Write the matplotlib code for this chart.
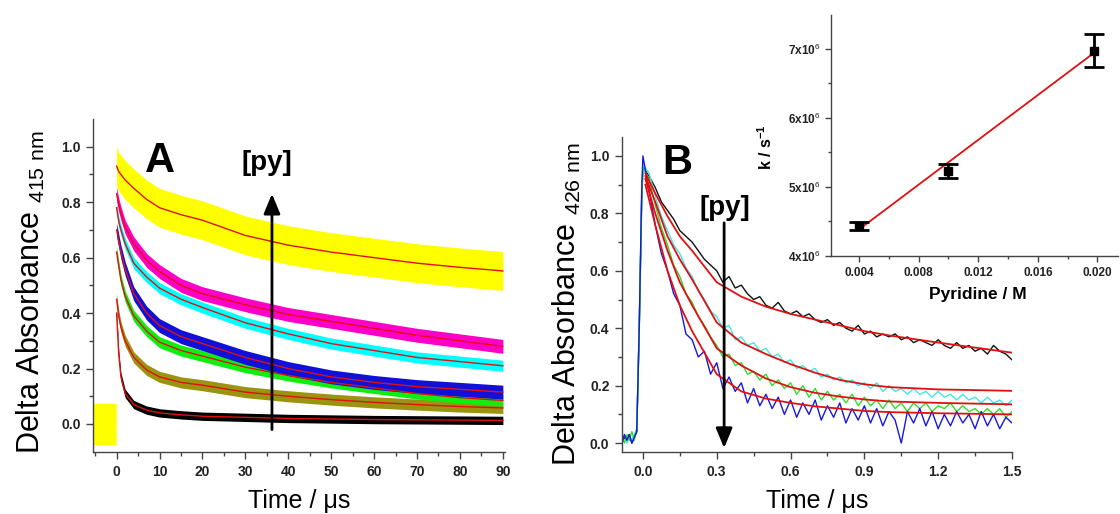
import matplotlib
matplotlib.use("Agg")
import matplotlib.pyplot as plt
from matplotlib.ticker import MultipleLocator, FixedLocator

plt.rcParams['font.family'] = ['Liberation Sans', 'DejaVu Sans']
plt.rcParams['mathtext.fontset'] = 'custom'
plt.rcParams['mathtext.rm'] = 'Liberation Sans'
plt.rcParams['mathtext.bf'] = 'Liberation Sans:bold'

# ---------------- Panel A data ----------------
tA = [0, 0.5, 1, 2, 4, 7, 10, 15, 20, 30, 40, 50, 60, 70, 80, 90]
A_yellow = [0.93, 0.91, 0.90, 0.88, 0.85, 0.81, 0.78, 0.755, 0.735, 0.68, 0.645, 0.62, 0.60, 0.58, 0.565, 0.552]
A_magenta = [0.83, 0.79, 0.76, 0.71, 0.65, 0.59, 0.55, 0.50, 0.47, 0.43, 0.395, 0.37, 0.345, 0.32, 0.30, 0.28]
A_cyan = [0.78, 0.73, 0.70, 0.65, 0.58, 0.53, 0.49, 0.45, 0.42, 0.365, 0.325, 0.29, 0.265, 0.24, 0.225, 0.21]
A_blue = [0.70, 0.66, 0.62, 0.56, 0.47, 0.40, 0.355, 0.315, 0.29, 0.24, 0.20, 0.17, 0.15, 0.135, 0.125, 0.115]
A_green = [0.62, 0.57, 0.52, 0.46, 0.39, 0.335, 0.295, 0.265, 0.245, 0.205, 0.175, 0.15, 0.13, 0.11, 0.095, 0.085]
A_olive = [0.45, 0.39, 0.35, 0.30, 0.24, 0.195, 0.17, 0.15, 0.14, 0.115, 0.10, 0.088, 0.078, 0.07, 0.063, 0.058]
A_black = [0.40, 0.25, 0.17, 0.11, 0.07, 0.05, 0.04, 0.033, 0.028, 0.024, 0.02, 0.018, 0.016, 0.015, 0.014, 0.013]
A_noise = {'yellow': 0.07, 'magenta': 0.025, 'cyan': 0.02, 'blue': 0.025,
           'green': 0.02, 'olive': 0.02, 'black': 0.015}
# yellow pre-trigger baseline
t_pre = [-5.5, -0.1]
pre_yellow = [0.0, 0.0]
pre_noise = 0.075

# ---------------- Panel B data ----------------
tB = [-0.085, -0.075, -0.065, -0.055, -0.045, -0.035, -0.025, -0.015, -0.005, 0.0,
      0.025, 0.05, 0.075, 0.1, 0.125, 0.15, 0.175, 0.2, 0.225, 0.25,
      0.275, 0.3, 0.325, 0.35, 0.375, 0.4, 0.425, 0.45, 0.475, 0.5,
      0.525, 0.55, 0.575, 0.6, 0.625, 0.65, 0.675, 0.7, 0.725, 0.75,
      0.775, 0.8, 0.825, 0.85, 0.875, 0.9, 0.925, 0.95, 0.975, 1.0,
      1.025, 1.05, 1.075, 1.1, 1.125, 1.15, 1.175, 1.2, 1.225, 1.25,
      1.275, 1.3, 1.325, 1.35, 1.375, 1.4, 1.425, 1.45, 1.475, 1.5]
B_black = [0.0, 0.02, 0.01, 0.03, 0.0, 0.02, 0.04, 0.40, 0.84, 0.96,
           0.93, 0.89, 0.84, 0.81, 0.78, 0.74, 0.72, 0.70, 0.67, 0.64,
           0.62, 0.60, 0.56, 0.58, 0.54, 0.55, 0.52, 0.50, 0.51, 0.48,
           0.47, 0.49, 0.46, 0.45, 0.46, 0.44, 0.45, 0.43, 0.42, 0.43,
           0.41, 0.42, 0.40, 0.39, 0.41, 0.38, 0.39, 0.37, 0.38, 0.37,
           0.38, 0.36, 0.37, 0.35, 0.36, 0.35, 0.34, 0.36, 0.34, 0.33,
           0.35, 0.33, 0.34, 0.32, 0.33, 0.31, 0.34, 0.32, 0.31, 0.29]
B_cyan = [0.01, 0.03, 0.0, 0.02, 0.01, 0.03, 0.05, 0.42, 0.86, 0.97,
          0.94, 0.86, 0.79, 0.74, 0.69, 0.66, 0.61, 0.58, 0.53, 0.50,
          0.46, 0.44, 0.40, 0.41, 0.36, 0.37, 0.34, 0.35, 0.32, 0.33,
          0.30, 0.31, 0.28, 0.29, 0.26, 0.27, 0.25, 0.26, 0.23, 0.24,
          0.22, 0.23, 0.21, 0.22, 0.20, 0.21, 0.19, 0.21, 0.18, 0.20,
          0.18, 0.19, 0.17, 0.19, 0.17, 0.18, 0.16, 0.18, 0.16, 0.17,
          0.15, 0.17, 0.15, 0.16, 0.14, 0.16, 0.14, 0.15, 0.13, 0.15]
B_green = [0.02, 0.0, 0.03, 0.01, 0.04, 0.01, 0.05, 0.38, 0.85, 0.96,
           0.92, 0.83, 0.75, 0.69, 0.62, 0.58, 0.52, 0.49, 0.44, 0.41,
           0.37, 0.34, 0.30, 0.31, 0.27, 0.28, 0.24, 0.25, 0.22, 0.24,
           0.20, 0.22, 0.19, 0.21, 0.17, 0.20, 0.16, 0.19, 0.15, 0.18,
           0.15, 0.17, 0.14, 0.17, 0.13, 0.16, 0.13, 0.15, 0.12, 0.15,
           0.12, 0.14, 0.11, 0.14, 0.12, 0.14, 0.11, 0.13, 0.12, 0.14,
           0.11, 0.13, 0.11, 0.12, 0.10, 0.12, 0.10, 0.12, 0.09, 0.11]
B_blue = [0.0, 0.03, 0.01, 0.03, 0.0, 0.02, 0.04, 0.40, 0.88, 1.0,
          0.88, 0.76, 0.66, 0.60, 0.52, 0.48, 0.38, 0.36, 0.30, 0.32,
          0.24, 0.28, 0.19, 0.23, 0.18, 0.21, 0.14, 0.19, 0.13, 0.17,
          0.12, 0.16, 0.10, 0.15, 0.09, 0.14, 0.10, 0.15, 0.08, 0.13,
          0.09, 0.14, 0.07, 0.12, 0.08, 0.13, 0.07, 0.12, 0.06, 0.11,
          0.08, 0.0, 0.11, 0.07, 0.12, 0.06, 0.11, 0.05, 0.10, 0.06,
          0.11, 0.07, 0.10, 0.05, 0.11, 0.06, 0.10, 0.05, 0.09, 0.07]
tB_fit = [0.01, 0.05, 0.1, 0.15, 0.2, 0.3, 0.4, 0.5, 0.6, 0.7, 0.8, 0.9, 1.0, 1.2, 1.5]
B_fit_black = [0.94, 0.87, 0.79, 0.72, 0.67, 0.56, 0.51, 0.475, 0.45, 0.43, 0.41, 0.39, 0.375, 0.35, 0.315]
B_fit_cyan = [0.93, 0.84, 0.72, 0.64, 0.57, 0.42, 0.35, 0.31, 0.275, 0.245, 0.22, 0.205, 0.195, 0.187, 0.182]
B_fit_green = [0.92, 0.80, 0.67, 0.56, 0.48, 0.33, 0.27, 0.225, 0.195, 0.175, 0.162, 0.152, 0.145, 0.14, 0.135]
B_fit_blue = [0.90, 0.76, 0.60, 0.48, 0.39, 0.24, 0.18, 0.155, 0.14, 0.128, 0.12, 0.112, 0.108, 0.104, 0.10]

# ---------------- Inset data ----------------
pyr = [0.004, 0.00995, 0.0198]
k_obs = [4.435e6, 5.23e6, 6.975e6]
k_err = [0.06e6, 0.10e6, 0.24e6]
fit_x = [0.004, 0.0197]
fit_k = [4.38e6, 6.93e6]

RED = '#e01010'
COL_A = {'yellow': '#ffff00', 'magenta': '#ff00c8', 'cyan': '#00ffff', 'blue': '#1010d8',
         'green': '#10ee10', 'olive': '#9a9410', 'black': '#000000'}

fig = plt.figure(figsize=(11.2, 5.14), dpi=100)
W, H = 1120.0, 514.0


def style_axes(ax, fs=10):
    for s in ['top', 'right']:
        ax.spines[s].set_visible(False)
    for s in ['left', 'bottom']:
        ax.spines[s].set_color('#444444')
        ax.spines[s].set_linewidth(1.0)
    ax.tick_params(which='major', direction='out', length=5, width=1, color='#444444',
                   labelsize=fs, pad=4)
    ax.tick_params(which='minor', direction='out', length=3, width=1, color='#444444')
    for lb in ax.get_xticklabels() + ax.get_yticklabels():
        lb.set_fontweight('bold')
        lb.set_color('#222222')


# ---------------- Panel A ----------------
axA = fig.add_axes([93 / W, 62 / H, (505 - 93) / W, (452 - 119) / H])
axA.set_xlim(-5.5, 90.5)
axA.set_ylim(-0.101, 1.1)
series_A = [('black', A_black), ('olive', A_olive), ('green', A_green), ('blue', A_blue),
            ('cyan', A_cyan), ('magenta', A_magenta), ('yellow', A_yellow)]
for name, vals in series_A:
    w = A_noise[name]
    lo = [v - w for v in vals]
    hi = [v + w for v in vals]
    axA.fill_between(tA, lo, hi, color=COL_A[name], lw=0, zorder=2)
# yellow pre-trigger + rise
axA.fill_between(t_pre + [tA[0]], [v - pre_noise for v in pre_yellow] + [A_yellow[0] - A_noise['yellow']],
                 [v + pre_noise for v in pre_yellow] + [A_yellow[0] + A_noise['yellow']],
                 color=COL_A['yellow'], lw=0, zorder=2)
for name, vals in series_A:
    axA.plot(tA, vals, color=RED, lw=1.0, zorder=3)
axA.set_xticks([0, 10, 20, 30, 40, 50, 60, 70, 80, 90])
axA.xaxis.set_minor_locator(MultipleLocator(5))
axA.set_yticks([0.0, 0.2, 0.4, 0.6, 0.8, 1.0])
axA.set_yticklabels(['0.0', '0.2', '0.4', '0.6', '0.8', '1.0'])
axA.yaxis.set_minor_locator(FixedLocator([0.1, 0.3, 0.5, 0.7, 0.9]))
style_axes(axA)
axA.set_xlabel('Time / μs', fontsize=18)
axA.xaxis.set_label_coords(0.5, -0.11)
axA.set_ylabel(r'Delta Absorbance $_{\mathrm{415\ nm}}$', fontsize=22)
axA.yaxis.set_label_coords(-0.112, 0.48)
axA.text(10, 0.95, 'A', fontsize=30, fontweight='bold', ha='center', va='center')
axA.text(35, 0.94, '[py]', fontsize=20, fontweight='bold', ha='center', va='center')
axA.annotate('', xy=(36.2, 0.83), xytext=(36.2, -0.02),
             arrowprops=dict(arrowstyle='-|>,head_length=0.6,head_width=0.25',
                             mutation_scale=20, lw=2, color='k', shrinkA=0, shrinkB=0), zorder=5)

# ---------------- Panel B ----------------
axB = fig.add_axes([622 / W, 62 / H, (1012 - 622) / W, (452 - 137) / H])
axB.set_xlim(-0.085, 1.5)
axB.set_ylim(-0.031, 1.066)
axB.plot(tB, B_black, color='#111111', lw=1.0, zorder=2)
axB.plot(tB, B_cyan, color='#40e8e8', lw=1.0, zorder=2)
axB.plot(tB, B_green, color='#30dd30', lw=1.0, zorder=2)
axB.plot(tB, B_blue, color='#1818dd', lw=1.0, zorder=2)
for vals in [B_fit_black, B_fit_cyan, B_fit_green, B_fit_blue]:
    axB.plot(tB_fit, vals, color=RED, lw=1.3, zorder=3)
axB.set_xticks([0.0, 0.3, 0.6, 0.9, 1.2, 1.5])
axB.set_xticklabels(['0.0', '0.3', '0.6', '0.9', '1.2', '1.5'])
axB.xaxis.set_minor_locator(FixedLocator([0.15, 0.45, 0.75, 1.05, 1.35]))
axB.set_yticks([0.0, 0.2, 0.4, 0.6, 0.8, 1.0])
axB.set_yticklabels(['0.0', '0.2', '0.4', '0.6', '0.8', '1.0'])
axB.yaxis.set_minor_locator(FixedLocator([0.1, 0.3, 0.5, 0.7, 0.9]))
style_axes(axB)
axB.set_xlabel('Time / μs', fontsize=18)
axB.xaxis.set_label_coords(0.5, -0.117)
axB.set_ylabel(r'Delta Absorbance $_{\mathrm{426\ nm}}$', fontsize=22)
axB.yaxis.set_label_coords(-0.1, 0.47)
axB.text(0.138, 0.976, 'B', fontsize=30, fontweight='bold', ha='center', va='center')
axB.text(0.334, 0.82, '[py]', fontsize=20, fontweight='bold', ha='center', va='center')
axB.annotate('', xy=(0.33, -0.017), xytext=(0.33, 0.767),
             arrowprops=dict(arrowstyle='-|>,head_length=0.6,head_width=0.25',
                             mutation_scale=20, lw=2, color='k', shrinkA=0, shrinkB=0), zorder=5)

# ---------------- Inset ----------------
axI = fig.add_axes([831 / W, (H - 256) / H, (1118 - 831) / W, (256 - 15) / H])
axI.set_xlim(0.00212, 0.02138)
axI.set_ylim(3.995e6, 7.49e6)
axI.plot(fit_x, fit_k, color=RED, lw=1.3, zorder=2)
axI.errorbar(pyr, k_obs, yerr=k_err, fmt='s', color='k', ms=6, capsize=7, elinewidth=2,
             capthick=2, zorder=3)
axI.set_xticks([0.004, 0.008, 0.012, 0.016, 0.020])
axI.set_xticklabels(['0.004', '0.008', '0.012', '0.016', '0.020'])
axI.xaxis.set_minor_locator(FixedLocator([0.006, 0.010, 0.014, 0.018]))
axI.set_yticks([4e6, 5e6, 6e6, 7e6])
axI.set_yticklabels(['4x10$^{6}$', '5x10$^{6}$', '6x10$^{6}$', '7x10$^{6}$'])
axI.yaxis.set_minor_locator(FixedLocator([4.5e6, 5.5e6, 6.5e6]))
style_axes(axI, fs=8.5)
axI.tick_params(which='major', length=4)
axI.tick_params(which='minor', length=2)
axI.set_xlabel('Pyridine / M', fontsize=12.5, fontweight='bold')
axI.xaxis.set_label_coords(0.51, -0.13)
axI.set_ylabel(r'k / s$^{\mathbf{-1}}$', fontsize=11.5, fontweight='bold')
axI.yaxis.set_label_coords(-0.195, 0.45)

fig.savefig('out.png', dpi=100)
